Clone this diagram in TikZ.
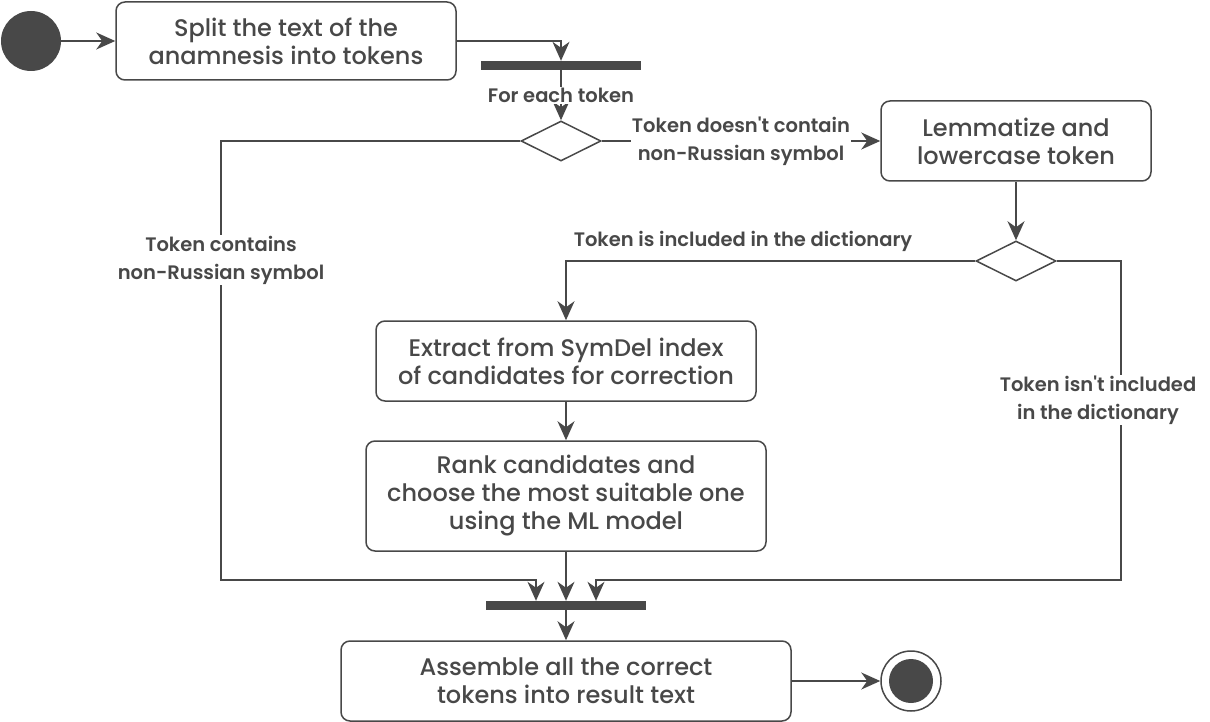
\documentclass[tikz,border=0pt]{standalone}
\usepackage{fontspec}
\setmainfont{Poppins}[UprightFont=* Medium,BoldFont=* SemiBold]
\usetikzlibrary{arrows.meta,shapes.geometric}
\definecolor{dg}{HTML}{484848}
\begin{document}
\begin{tikzpicture}[x=1pt,y=-1pt,
  every node/.style={text=dg},
  act/.style={draw=dg,line width=1.5pt,rounded corners=9pt,align=center,font=\fontsize{24}{28}\selectfont,inner sep=0pt},
  dec/.style={draw=dg,line width=1.5pt,diamond,minimum width=80pt,minimum height=40pt,inner sep=0pt,aspect=2},
  bar/.style={fill=dg,draw=none,minimum height=9pt,inner sep=0pt},
  lbl/.style={fill=white,align=center,font=\bfseries\fontsize{19.5}{28}\selectfont,inner sep=1pt},
  conn/.style={draw=dg,line width=1.5pt,-{Stealth[length=19pt,width=17pt,inset=6pt]}},
  plain/.style={draw=dg,line width=1.5pt}]
\useasboundingbox (0,0) rectangle (1210,722);
\node[circle,fill=dg,minimum size=60pt,inner sep=0pt] (start) at (31,41) {};
\node[act,minimum width=340pt,minimum height=78pt] (split) at (286,41) {Split the text of the\\anamnesis into tokens};
\node[bar,minimum width=160pt] (bar1) at (561,65.5) {};
\node[dec] (d1) at (561,141) {};
\node[act,minimum width=270pt,minimum height=80pt] (lem) at (1016,141) {Lemmatize and\\lowercase token};
\node[dec] (d2) at (1016,261) {};
\node[act,minimum width=380pt,minimum height=80pt] (ext) at (566,361) {Extract from SymDel index\\of candidates for correction};
\node[act,minimum width=400pt,minimum height=110pt] (rank) at (566,496) {Rank candidates and\\choose the most suitable one\\using the ML model};
\node[bar,minimum width=160pt] (bar2) at (566,605.5) {};
\node[act,minimum width=450pt,minimum height=80pt] (asm) at (566,681) {Assemble all the correct\\tokens into result text};
\node[circle,draw=dg,line width=1.5pt,minimum size=60pt,inner sep=0pt] (fin) at (911,681) {};
\node[circle,fill=dg,minimum size=44pt,inner sep=0pt] at (fin) {};

\coordinate (c1) at (561,41);
\coordinate (c2) at (221,141);
\coordinate (c3) at (221,580);
\coordinate (c4) at (536,580);
\coordinate (c5) at (566,261);
\coordinate (c6) at (1121,261);
\coordinate (c7) at (1121,580);
\coordinate (c8) at (596,580);

\draw[conn] (start) -- (split);
\draw[conn] (split.east) -- (c1) -- (bar1.north);
\draw[conn] (bar1.south) -- (d1.north) node[lbl,pos=0.5] {For each token};
\draw[conn] (d1.east) -- (lem.west) node[lbl,pos=0.5] {Token doesn\textquotesingle t contain\\non-Russian symbol};
\draw[conn] (lem.south) -- (d2.north);
\draw[conn] (d2.west) -- (c5) -- (ext.north);
\node[lbl] at (743,241) {Token is included in the dictionary};
\draw[conn] (d2.east) -- (c6) -- (c7) -- (c8) -- (c8 |- bar2.north);
\node[lbl] at (1098,400) {Token isn\textquotesingle t included\\in the dictionary};
\draw[conn] (d1.west) -- (c2) -- (c3) -- (c4) -- (c4 |- bar2.north);
\node[lbl] at (221,260) {Token contains\\non-Russian symbol};
\draw[conn] (ext.south) -- (rank.north);
\draw[conn] (rank.south) -- (bar2.north);
\draw[conn] (bar2.south) -- (asm.north);
\draw[conn] (asm.east) -- (fin.west);
\end{tikzpicture}
\end{document}
